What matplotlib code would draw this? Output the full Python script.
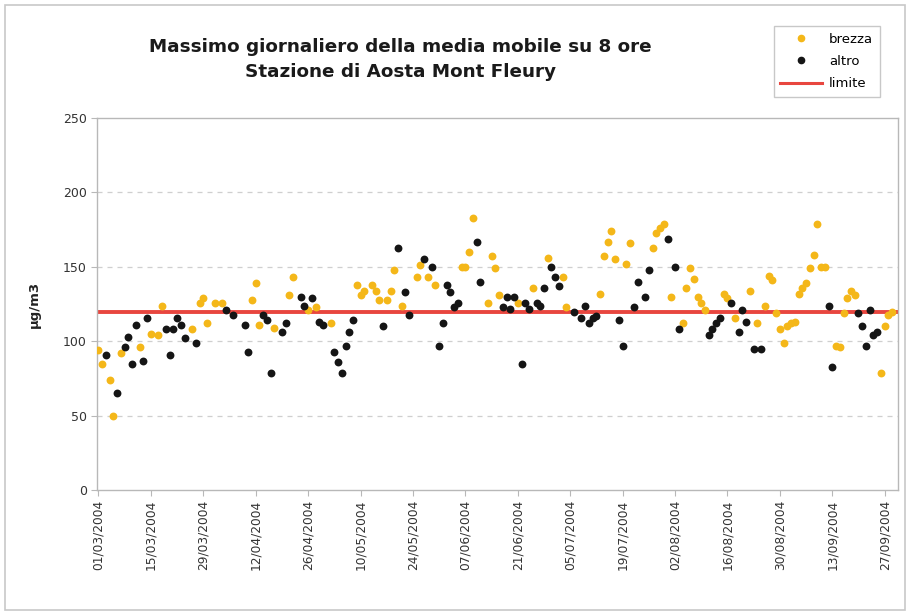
import matplotlib
matplotlib.use("Agg")
import matplotlib.pyplot as plt
from matplotlib.lines import Line2D
from matplotlib.patches import Rectangle

# giorni contati dal 01/03/2004
altro_giorno = [2, 5, 7, 8, 9, 10, 12, 13, 18, 19, 20, 21, 22, 23, 26, 34, 36, 39, 40,
                44, 45, 46, 49, 50, 54, 55, 57, 59, 60, 63, 64, 65, 66, 67, 68, 76, 80,
                82, 83, 87, 89, 91, 92, 93, 94, 95, 96, 101, 102, 108, 109, 110, 111,
                113, 114, 115, 117, 118, 119, 121, 122, 123, 127, 129, 130, 131, 132,
                133, 139, 140, 143, 144, 146, 147, 152, 154, 155, 163, 164, 165, 166,
                169, 171, 172, 173, 175, 177, 195, 196, 203, 204, 205, 206, 207, 208]
altro_val = [91, 65, 96, 103, 85, 111, 87, 116, 108, 91, 108, 116, 111, 102, 99, 121, 118,
             111, 93, 118, 114, 79, 106, 112, 130, 124, 129, 113, 111, 93, 86, 79, 97,
             106, 114, 110, 163, 133, 118, 155, 150, 97, 112, 138, 133, 123, 126, 167,
             140, 123, 130, 122, 130, 85, 126, 122, 126, 124, 136, 150, 143, 137, 120,
             116, 124, 112, 116, 117, 114, 97, 123, 140, 130, 148, 169, 150, 108, 104,
             108, 112, 116, 126, 106, 121, 113, 95, 95, 124, 83, 119, 110, 97, 121, 104,
             106]

brezza_giorno = [0, 1, 3, 4, 6, 11, 14, 16, 17, 25, 27, 28, 29, 31, 33, 41, 42, 43, 47,
                 51, 52, 56, 58, 62, 69, 70, 71, 73, 74, 75, 77, 78, 79, 81, 85, 86, 88,
                 90, 97, 98, 99, 100, 104, 105, 106, 107, 112, 116, 120, 124, 125, 134,
                 135, 136, 137, 138, 141, 142, 148, 149, 150, 151, 153, 156, 157, 158,
                 159, 160, 161, 162, 167, 168, 170, 174, 176, 178, 179, 180, 181, 182,
                 183, 184, 185, 186, 187, 188, 189, 190, 191, 192, 193, 194, 197, 198,
                 199, 200, 201, 202, 209, 210, 211, 212]
brezza_val = [94, 85, 74, 50, 92, 96, 105, 104, 124, 108, 126, 129, 112, 126, 126, 128,
              139, 111, 109, 131, 143, 121, 123, 112, 138, 131, 134, 138, 134, 128, 128,
              134, 148, 124, 143, 151, 143, 138, 150, 150, 160, 183, 126, 157, 149, 131,
              126, 136, 156, 143, 123, 132, 157, 167, 174, 155, 152, 166, 163, 173, 176,
              179, 130, 112, 136, 149, 142, 130, 126, 121, 132, 129, 116, 134, 112, 124,
              144, 141, 119, 108, 99, 110, 112, 113, 132, 136, 139, 149, 158, 179, 150,
              150, 97, 96, 119, 129, 134, 131, 79, 110, 118, 120]

limite = 120

tick_giorni = [0, 14, 28, 42, 56, 70, 84, 98, 112, 126, 140, 154, 168, 182, 196, 210]
tick_labels = ["01/03/2004", "15/03/2004", "29/03/2004", "12/04/2004", "26/04/2004",
               "10/05/2004", "24/05/2004", "07/06/2004", "21/06/2004", "05/07/2004",
               "19/07/2004", "02/08/2004", "16/08/2004", "30/08/2004", "13/09/2004",
               "27/09/2004"]

GIALLO = "#F4B719"
NERO = "#151515"
ROSSO = "#E8463F"
GRIGIO = "#B8B8B8"

fig = plt.figure(figsize=(9.1, 6.15), dpi=100)
fig.patches.append(Rectangle((0.006, 0.008), 0.988, 0.984, transform=fig.transFigure,
                             fill=False, edgecolor="#C8C8C8", linewidth=1.2))
ax = fig.add_axes([0.107, 0.203, 0.880, 0.605])

ax.axhline(limite, color=ROSSO, linewidth=2.8, zorder=2)
ax.scatter(brezza_giorno, brezza_val, s=32, color=GIALLO, linewidths=0, zorder=3)
ax.scatter(altro_giorno, altro_val, s=32, color=NERO, linewidths=0, zorder=4)

ax.set_xlim(-0.3, 213.6)
ax.set_ylim(0, 250)
ax.set_yticks([0, 50, 100, 150, 200, 250])
ax.set_xticks(tick_giorni)
ax.set_xticklabels(tick_labels, rotation=90, fontsize=8.8, color="#333333")
ax.tick_params(axis="y", labelsize=9, colors="#333333", length=4, color=GRIGIO)
ax.tick_params(axis="x", length=4, color=GRIGIO, pad=3)
for y in [50, 100, 150, 200]:
    ax.axhline(y, color="#CFCFCF", linewidth=0.9, linestyle=(0, (4, 4)), zorder=1)
for s in ax.spines.values():
    s.set_color(GRIGIO)
    s.set_linewidth(1.0)

ax.set_ylabel("µg/m3", fontsize=9.5, fontweight="bold", color="#222222", labelpad=16)

fig.text(0.44, 0.904, "Massimo giornaliero della media mobile su 8 ore\nStazione di Aosta Mont Fleury",
         ha="center", va="center", fontsize=13.2, fontweight="bold", color="#1a1a1a",
         linespacing=1.5)

handles = [
    Line2D([], [], marker="o", linestyle="none", color=GIALLO, markersize=4.5),
    Line2D([], [], marker="o", linestyle="none", color=NERO, markersize=4.5),
    Line2D([], [], color=ROSSO, linewidth=2.2),
]
fig.legend(handles, ["brezza", "altro", "limite"], loc="upper right",
           bbox_to_anchor=(0.974, 0.968), fontsize=9.5, frameon=True, fancybox=False,
           edgecolor="#BBBBBB", handlelength=3.2, handletextpad=0.5, borderpad=0.5,
           labelspacing=0.7)

plt.savefig("out.png", dpi=100)
plt.close()
